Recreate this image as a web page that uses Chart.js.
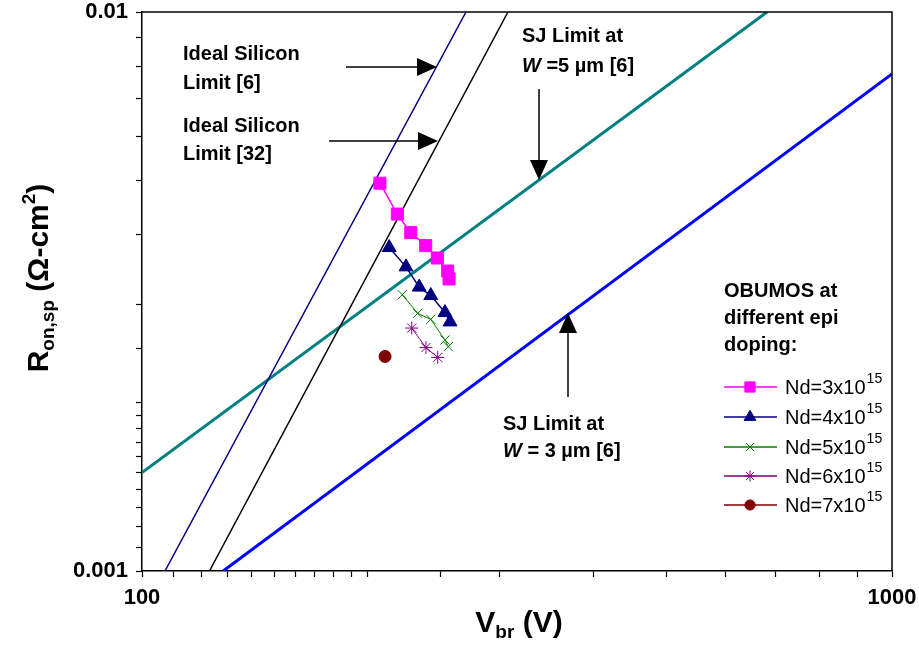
<!DOCTYPE html>
<html>
<head>
<meta charset="utf-8">
<script src="https://cdn.jsdelivr.net/npm/chart.js@4.4.0/dist/chart.umd.min.js"></script>
<style>
html, body { margin: 0; padding: 0; background: #fff; }
#wrap { width: 919px; height: 648px; position: relative; }
</style>
</head>
<body>
<div id="wrap"><canvas id="ronChart"></canvas></div>
<script>
// OBUMOS points: breakdown voltage (V) vs specific on-resistance (ohm-cm2)
var vbrNd3 = [207.6, 219.0, 228.2, 238.9, 247.6, 255.6, 256.7];
var ronNd3 = [0.00494, 0.00435, 0.00403, 0.00382, 0.00363, 0.00344, 0.00333];
var vbrNd4 = [213.6, 224.9, 234.2, 242.7, 253.5, 257.5];
var ronNd4 = [0.00379, 0.00350, 0.00322, 0.00311, 0.00290, 0.00279];
var vbrNd5 = [222.4, 233.1, 242.7, 253.5, 256.1];
var ronNd5 = [0.00312, 0.00289, 0.00282, 0.00259, 0.00252];
var vbrNd6 = [228.9, 239.1, 247.9];
var ronNd6 = [0.00272, 0.00251, 0.00241];
var vbrNd7 = [210.9];
var ronNd7 = [0.00242];

// limit lines, end points
var idealSi6V = [107.3, 270.4];
var idealSi6R = [0.001, 0.01];
var idealSi32V = [123.0, 307.6];
var idealSi32R = [0.001, 0.01];
var sj5V = [100, 681.4];
var sj5R = [0.0015, 0.01];
var sj3V = [128.3, 1000];
var sj3R = [0.001, 0.00775];

var seriesNames = ["Nd=3x10", "Nd=4x10", "Nd=5x10", "Nd=6x10", "Nd=7x10"];
var seriesExp = "15";
var xTickLabels = [100, 1000];
var yTickLabels = [0.001, 0.01];

var FONT = "'Liberation Sans', Arial, sans-serif";

function pts(xs, ys) {
    return xs.map(function(x, i) { return {x: x, y: ys[i]}; });
}

function markerSet(label, xs, ys, color, style, radius, lw) {
    return {
        label: label,
        data: pts(xs, ys),
        showLine: true,
        borderColor: color,
        backgroundColor: color,
        borderWidth: lw,
        pointStyle: style,
        pointRadius: radius,
        pointHoverRadius: radius,
        pointBackgroundColor: color,
        pointBorderColor: color,
        pointBorderWidth: 1
    };
}

function limitSet(label, xs, ys, color, lw) {
    return {
        label: label,
        data: pts(xs, ys),
        showLine: true,
        borderColor: color,
        backgroundColor: color,
        borderWidth: lw,
        pointRadius: 0,
        pointHoverRadius: 0
    };
}

var seriesSets = [
    markerSet(seriesNames[0], vbrNd3, ronNd3, "#FF00FF", "rect", 8.5, 1.5),
    markerSet(seriesNames[1], vbrNd4, ronNd4, "#000080", "triangle", 8, 1.5),
    markerSet(seriesNames[2], vbrNd5, ronNd5, "#008000", "crossRot", 6.5, 1),
    markerSet(seriesNames[3], vbrNd6, ronNd6, "#800080", "star", 6.5, 1),
    markerSet(seriesNames[4], vbrNd7, ronNd7, "#800000", "circle", 6, 1)
];

var datasets = seriesSets.concat([
    limitSet("Ideal Silicon Limit [6]", idealSi6V, idealSi6R, "#000080", 1.5),
    limitSet("Ideal Silicon Limit [32]", idealSi32V, idealSi32R, "#000000", 1.5),
    limitSet("SJ Limit W=5", sj5V, sj5R, "#008080", 3),
    limitSet("SJ Limit W=3", sj3V, sj3R, "#0000FF", 3)
]);

// draws text runs with sub/superscripts, returns width
function runs(ctx, parts, x, y, measureOnly) {
    var w = 0;
    parts.forEach(function(p) {
        ctx.font = p.f;
        if (!measureOnly) ctx.fillText(p.t, x + w, y + (p.dy || 0));
        w += ctx.measureText(p.t).width;
    });
    return w;
}

function arrow(ctx, x1, y1, x2, y2) {
    var ang = Math.atan2(y2 - y1, x2 - x1);
    var len = 20, half = 9;
    ctx.beginPath();
    ctx.moveTo(x1, y1);
    ctx.lineTo(x2 - Math.cos(ang) * len, y2 - Math.sin(ang) * len);
    ctx.stroke();
    ctx.beginPath();
    ctx.moveTo(x2, y2);
    ctx.lineTo(x2 - Math.cos(ang) * len - Math.sin(ang) * half, y2 - Math.sin(ang) * len + Math.cos(ang) * half);
    ctx.lineTo(x2 - Math.cos(ang) * len + Math.sin(ang) * half, y2 - Math.sin(ang) * len - Math.cos(ang) * half);
    ctx.closePath();
    ctx.fill();
}

var decorPlugin = {
    id: "decor",
    afterDraw: function(chart) {
        var ctx = chart.ctx;
        var a = chart.chartArea;
        ctx.save();
        ctx.strokeStyle = "#000";
        ctx.fillStyle = "#000";
        ctx.lineWidth = 1.5;
        // top and right frame
        ctx.beginPath();
        ctx.moveTo(a.left, a.top);
        ctx.lineTo(a.right, a.top);
        ctx.lineTo(a.right, a.bottom);
        ctx.stroke();

        // axis titles
        var big = "bold 30px " + FONT, small = "bold 19px " + FONT;
        ctx.textBaseline = "alphabetic";
        var xt = [{t: "V", f: big}, {t: "br", f: small, dy: 6}, {t: " (V)", f: big}];
        var xw = runs(ctx, xt, 0, 0, true);
        runs(ctx, xt, (a.left + a.right) / 2 - xw / 2 + 2, 632);

        var yt = [{t: "R", f: big}, {t: "on,sp", f: small, dy: 6}, {t: " (\u03A9-cm", f: big},
                  {t: "2", f: small, dy: -13}, {t: ")", f: big}];
        var yw = runs(ctx, yt, 0, 0, true);
        ctx.save();
        ctx.translate(48, 278);
        ctx.rotate(-Math.PI / 2);
        runs(ctx, yt, -yw / 2, 0);
        ctx.restore();

        // annotations
        var af = "bold 20px " + FONT;
        ctx.font = af;
        ctx.fillText("Ideal Silicon", 183, 60);
        ctx.fillText("Limit [6]", 183, 89);
        ctx.fillText("Ideal Silicon", 183, 132);
        ctx.fillText("Limit [32]", 183, 160);
        ctx.fillText("SJ Limit at", 522, 42);
        runs(ctx, [{t: "W", f: "italic bold 20px " + FONT}, {t: " =5 \u00B5m [6]", f: af}], 522, 72);
        ctx.font = af;
        ctx.fillText("SJ Limit at", 503, 430);
        runs(ctx, [{t: "W", f: "italic bold 20px " + FONT}, {t: " = 3 \u00B5m [6]", f: af}], 503, 457);
        ctx.font = af;
        ctx.fillText("OBUMOS at", 724, 297);
        ctx.fillText("different epi", 724, 324);
        ctx.fillText("doping:", 724, 351);

        arrow(ctx, 346, 67, 437, 67);
        arrow(ctx, 329, 141, 438, 141);
        arrow(ctx, 539, 89, 539, 180);
        arrow(ctx, 568, 397, 568, 313);

        // legend
        var rowY = [387, 417, 447, 476, 505];
        seriesSets.forEach(function(ds, i) {
            var y = rowY[i];
            ctx.strokeStyle = ds.borderColor;
            ctx.fillStyle = ds.borderColor;
            ctx.lineWidth = 1.5;
            ctx.beginPath();
            ctx.moveTo(724, y);
            ctx.lineTo(777, y);
            ctx.stroke();
            ctx.lineWidth = 1;
            Chart.helpers.drawPoint(ctx, {
                pointStyle: ds.pointStyle, radius: ds.pointRadius * 0.85, rotation: 0, borderWidth: 1
            }, 750, y);
            ctx.fillStyle = "#000";
            ctx.textBaseline = "middle";
            var w = runs(ctx, [{t: ds.label, f: "20px " + FONT}], 785, y + 1);
            ctx.font = "14px " + FONT;
            ctx.fillText(seriesExp, 785 + w + 1, y - 8);
            ctx.textBaseline = "alphabetic";
        });
        ctx.restore();
    }
};

var ctx = document.getElementById("ronChart");
new Chart(ctx, {
    type: "scatter",
    data: {datasets: datasets},
    options: {
        responsive: true,
        maintainAspectRatio: false,
        animation: false,
        layout: {padding: {top: 12, right: 27, left: 0, bottom: 0}},
        plugins: {legend: {display: false}, tooltip: {enabled: false}},
        scales: {
            x: {
                type: "logarithmic",
                min: 100,
                max: 1000,
                afterFit: function(scale) {
                    scale.height = 77;
                    scale.paddingLeft = 0;
                    scale.paddingRight = 0;
                },
                grid: {drawOnChartArea: false, drawTicks: true, tickLength: 6, tickColor: "#000", tickWidth: 1.2},
                border: {display: true, color: "#000", width: 1.5},
                ticks: {
                    autoSkip: false,
                    maxRotation: 0,
                    padding: 8,
                    color: "#000",
                    font: {family: FONT, size: 22, weight: "bold"},
                    callback: function(v) {
                        var r = Math.round(v);
                        return xTickLabels.indexOf(r) >= 0 ? String(r) : "";
                    }
                }
            },
            y: {
                type: "logarithmic",
                min: 0.001,
                max: 0.01,
                afterFit: function(scale) {
                    scale.width = 142;
                    scale.paddingTop = 0;
                    scale.paddingBottom = 0;
                },
                grid: {drawOnChartArea: false, drawTicks: true, tickLength: 6, tickColor: "#000", tickWidth: 1.2},
                border: {display: true, color: "#000", width: 1.5},
                ticks: {
                    autoSkip: false,
                    padding: 8,
                    color: "#000",
                    font: {family: FONT, size: 22, weight: "bold"},
                    callback: function(v) {
                        for (var i = 0; i < yTickLabels.length; i++) {
                            if (Math.abs(v / yTickLabels[i] - 1) < 1e-6) return String(yTickLabels[i]);
                        }
                        return "";
                    }
                }
            }
        }
    },
    plugins: [decorPlugin]
});
</script>
</body>
</html>
